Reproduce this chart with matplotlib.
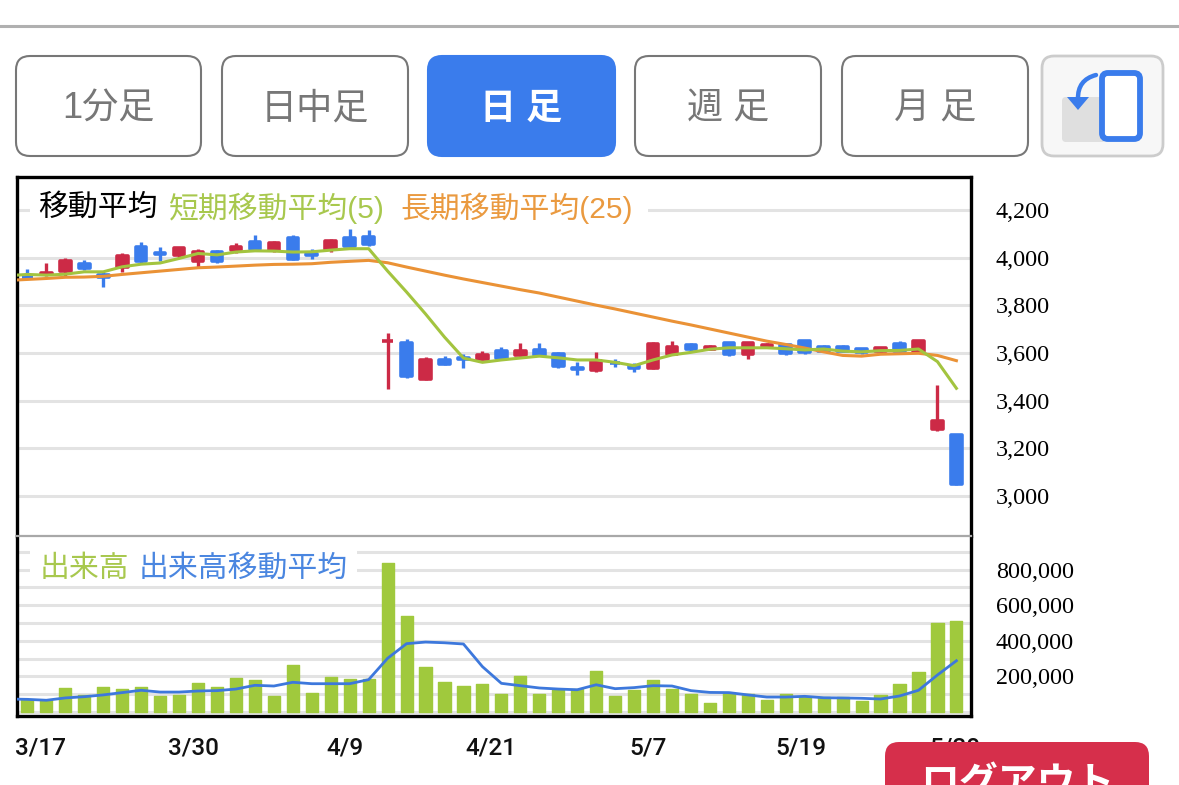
import numpy as np
import matplotlib
matplotlib.use("Agg")
import matplotlib.pyplot as plt
from matplotlib.patches import FancyBboxPatch, FancyArrowPatch, Polygon, Rectangle

plt.rcParams['font.family'] = ['Noto Sans CJK JP', 'DejaVu Sans']

# candle data, red = up, blue = down
opens = [3926, 3926, 3940, 3981, 3934, 3955, 4052, 4025, 4004, 3979,
         4032, 4025, 4071, 4025, 4091, 4021, 4032, 4087, 4095, 3643,
         3650, 3487, 3578, 3579, 3571, 3614, 3587, 3618, 3603, 3543,
         3523, 3562, 3550, 3532, 3592, 3641, 3613, 3647, 3590, 3624,
         3638, 3655, 3632, 3632, 3622, 3604, 3643, 3601, 3274, 3260]
closes = [3913, 3944, 3993, 3952, 3915, 4015, 3982, 4010, 4045, 4032,
          3982, 4050, 4032, 4067, 3990, 4004, 4075, 4045, 4052, 3658,
          3498, 3575, 3550, 3571, 3599, 3574, 3613, 3587, 3538, 3529,
          3574, 3551, 3533, 3643, 3632, 3610, 3632, 3589, 3647, 3638,
          3593, 3599, 3604, 3604, 3597, 3626, 3604, 3655, 3322, 3045]
highs = [3951, 3976, 3997, 3990, 3940, 4020, 4067, 4044, 4046, 4035,
         4033, 4063, 4095, 4070, 4094, 4035, 4077, 4119, 4115, 3683,
         3658, 3585, 3586, 3595, 3608, 3624, 3643, 3642, 3604, 3564,
         3603, 3575, 3557, 3645, 3649, 3642, 3633, 3648, 3648, 3642,
         3639, 3656, 3633, 3633, 3623, 3627, 3650, 3656, 3464, 3261]
lows = [3913, 3923, 3923, 3948, 3878, 3941, 3979, 3987, 3997, 3960,
        3980, 4018, 4029, 4024, 3989, 3996, 4024, 4044, 4049, 3449,
        3497, 3487, 3549, 3538, 3570, 3572, 3586, 3586, 3537, 3509,
        3522, 3540, 3522, 3531, 3591, 3609, 3612, 3588, 3576, 3623,
        3592, 3598, 3603, 3603, 3596, 3603, 3603, 3600, 3273, 3044]

# moving averages start one bar left of the window, the frame clips them
ma_days = list(range(-1, 50))
ma_short = [3925, 3930, 3927, 3931, 3941, 3941, 3962, 3973, 3978, 3997, 4018,
            4012, 4024, 4029, 4028, 4024, 4025, 4032, 4038, 4038, 3944,
            3856, 3764, 3667, 3579, 3561, 3571, 3579, 3587, 3580, 3571,
            3571, 3561, 3547, 3571, 3592, 3603, 3616, 3622, 3622, 3622,
            3618, 3613, 3617, 3608, 3605, 3610, 3611, 3617, 3564, 3452]
ma_long = [3905, 3909, 3913, 3918, 3919, 3922, 3930, 3937, 3944, 3951, 3958,
           3961, 3965, 3969, 3972, 3973, 3975, 3981, 3985, 3989, 3979,
           3961, 3944, 3927, 3911, 3896, 3881, 3866, 3852, 3835, 3818,
           3801, 3785, 3768, 3751, 3734, 3718, 3701, 3684, 3667, 3650,
           3636, 3621, 3605, 3590, 3587, 3595, 3597, 3599, 3590, 3568]

volume = [67000, 67000, 133000, 96000, 140000, 127000, 142000, 90000, 96000, 161000,
          142000, 193000, 182000, 90000, 262000, 109000, 197000, 187000, 183000, 835000,
          537000, 251000, 170000, 148000, 155000, 103000, 204000, 103000, 124000, 127000,
          232000, 92000, 124000, 178000, 129000, 103000, 52000, 109000, 99000, 67000,
          99000, 86000, 86000, 86000, 62000, 96000, 159000, 226000, 500000, 511000]
vol_ma = [73000, 71000, 66000, 79000, 86000, 96000, 109000, 122000, 112000, 112000, 118000,
          120000, 129000, 150000, 146000, 167000, 159000, 159000, 159000, 182000, 302000,
          384000, 393000, 389000, 382000, 255000, 161000, 148000, 135000, 129000, 125000,
          153000, 131000, 137000, 148000, 146000, 120000, 110000, 109000, 96000, 84000,
          84000, 88000, 80000, 79000, 77000, 73000, 90000, 122000, 208000, 288000]

price_ticks = [3000, 3200, 3400, 3600, 3800, 4000, 4200]
vol_ticks = [0, 100000, 200000, 300000, 400000, 500000, 600000, 700000, 800000, 900000]
vol_labels = ['', '', '200,000', '', '400,000', '', '600,000', '', '800,000', '']
date_labels = ['3/17', '3/30', '4/9', '4/21', '5/7', '5/19', '5/30']
buttons = ['1分足', '日中足', '日 足', '週 足', '月 足']

RED = '#cc2a46'
BLUE = '#3a7cec'
GREEN = '#a0c93d'
GREEN_LINE = '#a3c43f'
ORANGE = '#ea9236'
GRID = '#e3e3e3'
LEGEND_FONT = ['Liberation Sans', 'Noto Sans CJK JP']
W, H = 1179, 785


def panel(top, bottom):
    return fig.add_axes([17 / W, 1 - bottom / H, (971 - 17) / W, (bottom - top) / H])


fig = plt.figure(figsize=(W / 100, H / 100), dpi=100, facecolor='white')
ax = panel(177, 536)
ax2 = panel(536, 716)
days = np.arange(len(opens))

for a in (ax, ax2):
    a.set_xlim(-0.549, 49.77)
    a.set_xticks([])
    a.set_axisbelow(True)
    a.grid(axis='y', color=GRID, lw=2.2)
    a.yaxis.tick_right()
    a.tick_params(axis='y', length=0, pad=18)
    for s in a.spines.values():
        s.set_linewidth(2.4)

# price panel
ax.set_ylim(2832, 4339)
ax.set_yticks(price_ticks, ['{:,}'.format(v) for v in price_ticks], family='Liberation Serif', fontsize=17.4)
colors = [RED if c >= o else BLUE for o, c in zip(opens, closes)]
ax.vlines(days, lows, highs, colors=colors, lw=2.4, zorder=2)
pad = 6
tops = np.maximum(opens, closes) - pad
bots = np.minimum(opens, closes) + pad
ax.bar(days, np.maximum(tops - bots, 1), bottom=bots, width=0.56, color=colors, edgecolor=colors,
       lw=2.6, joinstyle='round', zorder=3)
ax.plot(ma_days, ma_long, color=ORANGE, lw=2.2, zorder=4)
ax.plot(ma_days, ma_short, color=GREEN_LINE, lw=2.2, zorder=5)
ax.spines['bottom'].set_linewidth(0)

# volume panel
ax2.set_ylim(-22500, 989000)
ax2.set_yticks(vol_ticks, vol_labels, family='Liberation Serif', fontsize=17.4)
ax2.bar(days, volume, width=0.64, color=GREEN, edgecolor=GREEN, lw=1, joinstyle='round', zorder=3)
ax2.plot(ma_days, vol_ma, color='#3d78dc', lw=2, zorder=4)
ax2.spines['top'].set_color('#a8a8a8')
ax2.spines['top'].set_linewidth(1.6)

# page furniture in pixel coordinates on top of the charts
ui = fig.add_axes([0, 0, 1, 1], facecolor='none')
ui.set_xlim(0, W)
ui.set_ylim(H, 0)
ui.axis('off')

ui.plot([0, W], [26, 26], color='#b0b0b0', lw=2.2)

ui.add_patch(Rectangle((30, 190), 618, 30, facecolor='white', edgecolor='none'))
ui.text(38, 208, '移動平均', fontsize=21.5, color='black', va='center', family=LEGEND_FONT)
ui.text(168, 208, '短期移動平均(5)', fontsize=21.5, color='#a8c84e', va='center', family=LEGEND_FONT)
ui.text(400, 208, '長期移動平均(25)', fontsize=21.5, color='#ea9a40', va='center', family=LEGEND_FONT)

ui.add_patch(Rectangle((30, 548), 327, 32, facecolor='white', edgecolor='none'))
ui.text(40, 569, '出来高', fontsize=21.5, color='#a8c84e', va='center', family=LEGEND_FONT)
ui.text(139, 569, '出来高移動平均', fontsize=21.5, color='#4a86e0', va='center', family=LEGEND_FONT)

for label, cx in zip(date_labels, [41, 193, 345, 491, 648, 801, 955]):
    ui.text(cx, 748, label, fontsize=17.5, family='Roboto', color='#111111',
            ha='center', va='center', weight=500)

button_x = [(16, 201), (222, 408), (428, 615), (635, 821), (842, 1028)]
for i, (label, (x0, x1)) in enumerate(zip(buttons, button_x)):
    active = i == 2
    ui.add_patch(FancyBboxPatch((x0 + 14, 70), x1 - x0 - 28, 72, boxstyle='round,pad=14,rounding_size=14',
                                facecolor=BLUE if active else 'white',
                                edgecolor=BLUE if active else '#777777', lw=1.5))
    ui.text((x0 + x1) / 2, 109, label, fontsize=26, color='white' if active else '#777777',
            ha='center', va='center', weight='bold' if active else 'normal', family=LEGEND_FONT)

# rotate icon
ui.add_patch(FancyBboxPatch((1054, 68), 97, 76, boxstyle='round,pad=12,rounding_size=12',
                            facecolor='#f7f7f7', edgecolor='#cccccc', lw=2))
ui.add_patch(FancyBboxPatch((1066, 101), 36, 37, boxstyle='round,pad=4,rounding_size=4',
                            facecolor='#dfdfdf', edgecolor='none'))
ui.add_patch(FancyBboxPatch((1106, 77), 30, 58, boxstyle='round,pad=4,rounding_size=6',
                            facecolor='white', edgecolor=BLUE, lw=4.2))
ui.add_patch(FancyArrowPatch((1096, 75), (1078, 99), connectionstyle='arc3,rad=0.4',
                             arrowstyle='-', color=BLUE, lw=3.2, shrinkA=0, shrinkB=0))
ui.add_patch(Polygon([(1067, 97), (1089, 97), (1078, 110)], facecolor=BLUE, edgecolor='none'))

# logout button covers the last date
ui.add_patch(FancyBboxPatch((899, 756), 236, 60, boxstyle='round,pad=14,rounding_size=14',
                            facecolor='#d62f4b', edgecolor='none', zorder=6))
ui.text(1017, 784, 'ログアウト', fontsize=28, color='white', ha='center', va='center',
        weight='bold', zorder=7)

plt.savefig('out.png', dpi=100)
